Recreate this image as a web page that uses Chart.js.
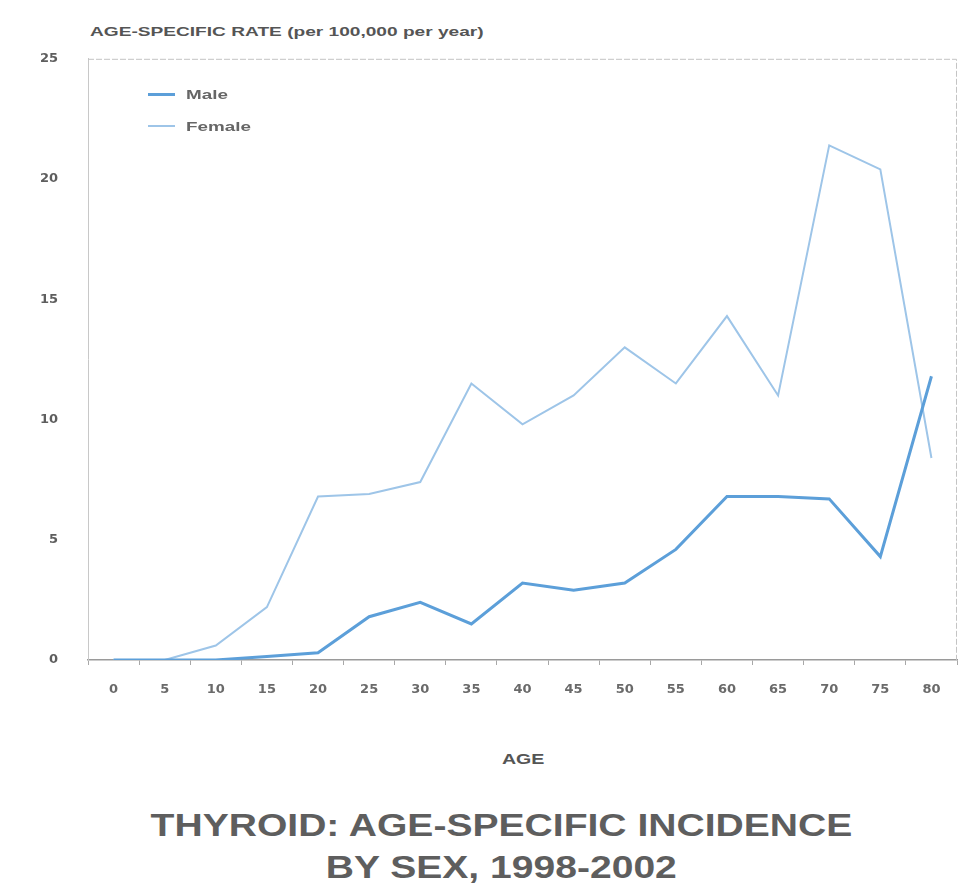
<!DOCTYPE html>
<html>
<head>
<meta charset="utf-8">
<script src="https://cdn.jsdelivr.net/npm/chart.js@4/dist/chart.umd.min.js"></script>
<style>
    body {
        margin: 0;
        width: 963px;
        height: 895px;
        background: #ffffff;
        position: relative;
        overflow: hidden;
        font-family: "Liberation Sans", Arial, sans-serif;
    }
    .wide {
        display: inline-block;
        transform-origin: left center;
    }
    #heading {
        position: absolute;
        left: 90px;
        top: 24px;
        font-size: 13px;
        font-weight: bold;
        color: #555;
        white-space: nowrap;
    }
    #heading .wide { transform: scaleX(1.47); }
    #chart-box {
        position: absolute;
        left: 0;
        top: 29px;
        width: 963px;
        height: 691px;
    }
    #legend {
        position: absolute;
        left: 148px;
        top: 78px;
        font-size: 13px;
        font-weight: bold;
        color: #666;
    }
    .item {
        height: 32px;
        display: flex;
        align-items: center;
    }
    .item .wide { transform: scaleX(1.45); }
    .swatch {
        display: inline-block;
        width: 27px;
        margin-right: 11px;
    }
    #age {
        position: absolute;
        left: 0;
        width: 1046px;
        top: 751px;
        text-align: center;
        font-size: 14px;
        font-weight: bold;
        color: #555;
    }
    #age .wide { transform: scaleX(1.4); transform-origin: center; }
    #title {
        position: absolute;
        left: 0;
        width: 1002px;
        top: 805px;
        text-align: center;
        font-size: 31px;
        line-height: 42px;
        font-weight: bold;
        color: #5e5e5e;
    }
    #title .wide { transform: scaleX(1.26); transform-origin: center; }
</style>
</head>
<body>
<div id="heading"><span class="wide">AGE-SPECIFIC RATE (per 100,000 per year)</span></div>
<div id="chart-box"><canvas id="myChart"></canvas></div>
<div id="legend"></div>
<div id="age"><span class="wide">AGE</span></div>
<div id="title"><span class="wide">THYROID: AGE-SPECIFIC INCIDENCE</span><br><span class="wide">BY SEX, 1998-2002</span></div>

<script>
const ages = ["0", "5", "10", "15", "20", "25", "30", "35", "40", "45", "50", "55", "60", "65", "70", "75", "80"];
const yTicks = [0, 5, 10, 15, 20, 25];

const maleRates = [0, 0, 0, 0.15, 0.3, 1.8, 2.4, 1.5, 3.2, 2.9, 3.2, 4.6, 6.8, 6.8, 6.7, 4.3, 11.8];
const femaleRates = [0, 0, 0.6, 2.2, 6.8, 6.9, 7.4, 11.5, 9.8, 11.0, 13.0, 11.5, 14.3, 11.0, 21.4, 20.4, 8.4];

const maleColor = "#5c9fd9";
const femaleColor = "#9ec5e8";

const series = [
    { label: "Male", data: maleRates, color: maleColor, width: 3 },
    { label: "Female", data: femaleRates, color: femaleColor, width: 2 }
];

// Legend drawn as html, top-left inside the plot
const legendEl = document.querySelector("#legend");
series.forEach(s => {
    const row = document.createElement("div");
    row.className = "item";
    row.innerHTML = `<span class="swatch" style="border-top:${s.width}px solid ${s.color}"></span><span class="wide">${s.label}</span>`;
    legendEl.appendChild(row);
});

// Faint frame round the plot area
const frame = {
    id: "frame",
    beforeDatasetsDraw(chart) {
        const a = chart.chartArea;
        const ctx = chart.ctx;
        ctx.save();
        ctx.strokeStyle = "#c4c4c4";
        ctx.lineWidth = 1;
        ctx.setLineDash([6, 2]);
        ctx.beginPath();
        ctx.moveTo(a.left, a.top + 0.5);
        ctx.lineTo(a.right - 0.5, a.top + 0.5);
        ctx.lineTo(a.right - 0.5, a.bottom);
        ctx.stroke();
        ctx.restore();
    }
};

const tickFont = { family: "DejaVu Sans", size: 13, weight: "bold" };

const ctx = document.getElementById("myChart").getContext("2d");

new Chart(ctx, {
    type: "line",
    data: {
        labels: ages,
        datasets: series.map(s => ({
            label: s.label,
            data: s.data,
            borderColor: s.color,
            backgroundColor: s.color,
            borderWidth: s.width,
            pointRadius: 0,
            tension: 0,
            fill: false
        }))
    },
    options: {
        responsive: true,
        maintainAspectRatio: false,
        animation: false,
        layout: {
            padding: { top: 7, right: 6, left: 0, bottom: 0 }
        },
        plugins: {
            legend: { display: false },
            tooltip: { enabled: false }
        },
        scales: {
            x: {
                offset: true,
                afterFit: scale => { scale.height = 60; },
                grid: {
                    offset: true,
                    drawOnChartArea: false,
                    tickLength: 5,
                    color: "#a8a8a8"
                },
                border: { color: "#9a9a9a", width: 1.5 },
                ticks: {
                    padding: 17,
                    color: "#6a6a6a",
                    font: tickFont
                }
            },
            y: {
                min: 0,
                max: 25,
                afterFit: scale => { scale.width = 88; },
                afterBuildTicks: scale => {
                    scale.ticks = yTicks.map(v => ({ value: v }));
                },
                grid: { display: false },
                border: { color: "#c8c8c8", width: 1 },
                ticks: {
                    padding: 22,
                    color: "#5e5e5e",
                    font: tickFont
                }
            }
        }
    },
    plugins: [frame]
});
</script>
</body>
</html>
